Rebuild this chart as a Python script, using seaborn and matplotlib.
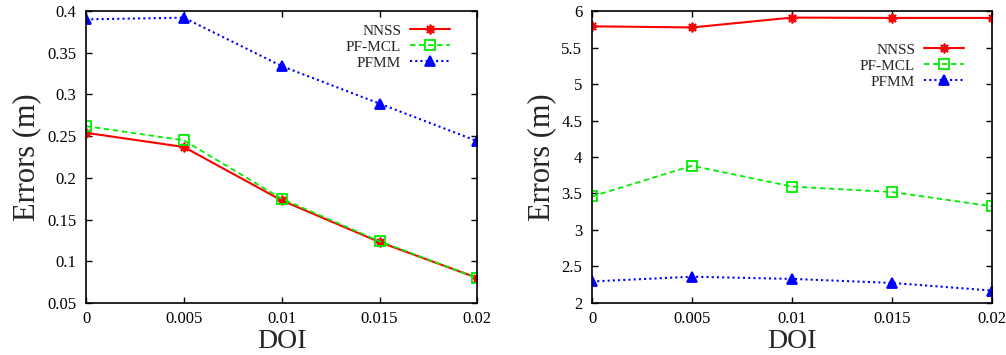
import matplotlib
matplotlib.use("Agg")
import matplotlib.pyplot as plt
import seaborn as sns
import pandas as pd

doi = [0, 0.005, 0.01, 0.015, 0.02]
series_names = ["NNSS", "PF-MCL", "PFMM"]

left_nnss = [0.254, 0.237, 0.173, 0.123, 0.080]
left_pfmcl = [0.262, 0.245, 0.175, 0.124, 0.080]
left_pfmm = [0.390, 0.392, 0.334, 0.289, 0.244]

right_nnss = [5.79, 5.775, 5.91, 5.905, 5.905]
right_pfmcl = [3.46, 3.88, 3.595, 3.52, 3.325]
right_pfmm = [2.295, 2.36, 2.33, 2.275, 2.17]

xticks = [0, 0.005, 0.01, 0.015, 0.02]
xticklabels = ["0", "0.005", "0.01", "0.015", "0.02"]
left_yticks = [0.05, 0.1, 0.15, 0.2, 0.25, 0.3, 0.35, 0.4]
left_yticklabels = ["0.05", "0.1", "0.15", "0.2", "0.25", "0.3", "0.35", "0.4"]
right_yticks = [2, 2.5, 3, 3.5, 4, 4.5, 5, 5.5, 6]
right_yticklabels = ["2", "2.5", "3", "3.5", "4", "4.5", "5", "5.5", "6"]

sns.set_theme(style="ticks")
plt.rcParams["font.family"] = ["Liberation Serif", "DejaVu Serif"]

colors = {"NNSS": "#ff0000", "PF-MCL": "#00ee00", "PFMM": "#0000ff"}
styles = {"NNSS": "-", "PF-MCL": (0, (3, 2)), "PFMM": (0, (1, 1.5))}
markers = {"NNSS": (8, 2, 0), "PF-MCL": "s", "PFMM": "^"}
mfc = {"NNSS": "#ff0000", "PF-MCL": "none", "PFMM": "#0000ff"}
lws = {"NNSS": 1.5, "PF-MCL": 1.3, "PFMM": 1.5}

fig = plt.figure(figsize=(10.06, 3.55), dpi=100)
ax1 = fig.add_axes([0.0855, 0.1465, 0.389, 0.8225])
ax2 = fig.add_axes([0.5885, 0.1465, 0.3976, 0.8225])

def draw(ax, vals, yticks, yticklabels, ylim, leg_anchor):
    for name, v in zip(series_names, vals):
        df = pd.DataFrame({"DOI": doi, "err": v})
        sns.lineplot(data=df, x="DOI", y="err", ax=ax, color=colors[name],
                     linestyle=styles[name], marker=markers[name],
                     markersize=7, markerfacecolor=mfc[name],
                     markeredgecolor=colors[name], markeredgewidth=1.3,
                     linewidth=lws[name], label=name)
    ax.set_xlim(0, 0.02)
    ax.set_ylim(*ylim)
    ax.set_xticks(xticks)
    ax.set_xticklabels(xticklabels, fontsize=12)
    ax.set_yticks(yticks)
    ax.set_yticklabels(yticklabels, fontsize=12)
    ax.tick_params(direction="in", top=True, right=True, length=4, width=1,
                   pad=7, colors="black")
    ax.tick_params(axis="x", pad=6)
    ax.set_xlabel("DOI", fontsize=20, labelpad=1)
    ax.set_ylabel("Errors (m)", fontsize=22, labelpad=4)
    for s in ax.spines.values():
        s.set_linewidth(1.2)
        s.set_color("black")
    ax.legend(loc="upper right", bbox_to_anchor=leg_anchor,
              markerfirst=False, frameon=False, fontsize=11,
              handlelength=2.6, labelspacing=0.15, borderpad=0,
              borderaxespad=0, handletextpad=0.6)

draw(ax1, [left_nnss, left_pfmcl, left_pfmm], left_yticks, left_yticklabels,
     (0.05, 0.4), (0.93, 0.955))
draw(ax2, [right_nnss, right_pfmcl, right_pfmm], right_yticks, right_yticklabels,
     (2, 6), (0.93, 0.89))

fig.savefig("out.png", dpi=100)
